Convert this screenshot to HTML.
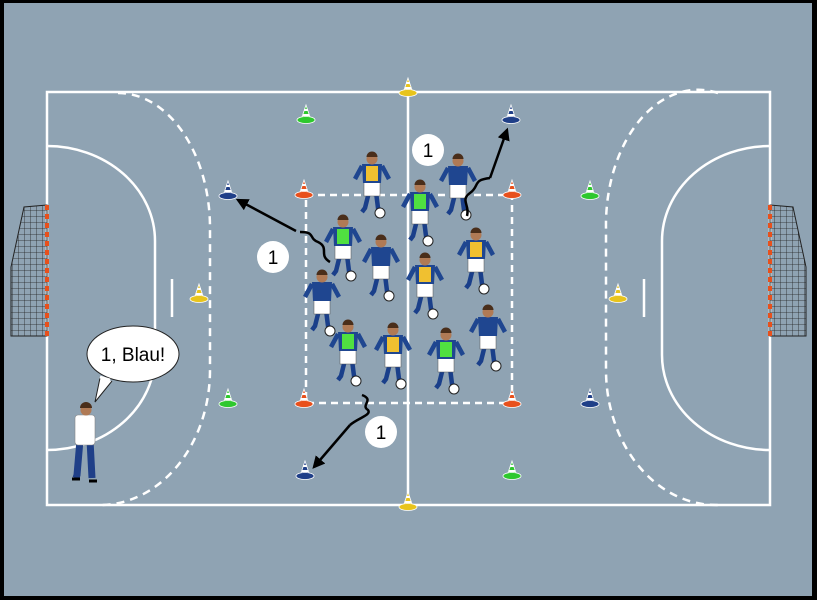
<!DOCTYPE html>
<html><head><style>html,body{margin:0;padding:0;background:#000}svg{display:block}</style></head><body>
<svg width="817" height="600" viewBox="0 0 817 600" xmlns="http://www.w3.org/2000/svg" font-family="Liberation Sans, sans-serif">
<defs>
<g id="pl">
 <path d="M-3,10 L-7,26 L-10,30" stroke="#1a3f8a" stroke-width="4.5" fill="none"/>
 <path d="M4,10 L6,26 L10,30" stroke="#1a3f8a" stroke-width="4.5" fill="none"/>
 <rect x="-8" y="0" width="16" height="14" fill="#fff" stroke="#555" stroke-width=".5"/>
 <path d="M-10,-18 L10,-18 L9,1 L-9,1 Z" fill="#1f4690"/>
 <path d="M-10,-16 L-17,-3 M10,-16 L17,-3" stroke="#1f4690" stroke-width="4.5"/>
 <circle cx="0" cy="-23" r="5.5" fill="#b07a55"/>
 <path d="M-5.5,-25 A5.5,5.5 0 0 1 5.5,-25 Z" fill="#4a2e1a"/>
 <circle cx="8" cy="31" r="5" fill="#fff" stroke="#222"/>
</g>
<g id="cone"><path d="M-5,0 L0,-15 L5,0 Z"/><ellipse cx="0" cy="0" rx="9" ry="3.5"/><path d="M-3,-5 L3,-5 M-2,-10 L2,-10" stroke="#fff" stroke-width="2"/></g>
<marker id="ar" viewBox="0 0 10 10" refX="8" refY="5" markerWidth="5" markerHeight="5" orient="auto"><path d="M0,0 L10,5 L0,10 Z" fill="#000"/></marker>
<pattern id="net" width="6" height="6" patternUnits="userSpaceOnUse"><path d="M6,0 L0,0 0,6" fill="none" stroke="#222" stroke-width=".8"/></pattern>
</defs>
<rect x="0" y="0" width="817" height="600" fill="#000"/>
<rect x="4" y="3" width="808" height="593" fill="#8fa3b3"/>
<g stroke="#fff" stroke-width="2.5" fill="none">
<rect x="47" y="92" width="723" height="413"/>
<line x1="408" y1="92" x2="408" y2="505"/>
<path d="M47,146 A108,95 0 0 1 155,241 L155,355 A108,95 0 0 1 47,450"/>
<path d="M770,146 A108,95 0 0 0 662,241 L662,355 A108,95 0 0 0 770,450"/>
<path d="M118,93 A92,135 0 0 1 210,228 L210,370 A110,135 0 0 1 100,505" stroke-dasharray="8,6"/>
<path d="M718,93 A92,135 0 0 0 606,228 L606,370 A110,135 0 0 0 718,505" stroke-dasharray="8,6"/>
<line x1="172" y1="279" x2="172" y2="317"/>
<line x1="644" y1="279" x2="644" y2="317"/>
<rect x="306" y="195" width="206" height="208" stroke-dasharray="7,5"/>
</g>
<g stroke="#222" stroke-width="1">
<path d="M47,205 L24,207 L11,267 L11,336 L47,336 Z" fill="url(#net)"/>
<path d="M770,205 L793,207 L806,267 L806,336 L770,336 Z" fill="url(#net)"/>
</g>
<line x1="47" y1="205" x2="47" y2="336" stroke="#e8501c" stroke-width="4" stroke-dasharray="5,4"/>
<line x1="770" y1="205" x2="770" y2="336" stroke="#e8501c" stroke-width="4" stroke-dasharray="5,4"/>
<g stroke="#fff" stroke-width=".8">
<use href="#cone" x="304" y="195" fill="#e8501c"/><use href="#cone" x="512" y="195" fill="#e8501c"/>
<use href="#cone" x="304" y="404" fill="#e8501c"/><use href="#cone" x="512" y="404" fill="#e8501c"/>
<use href="#cone" x="408" y="93" fill="#e8c41c"/><use href="#cone" x="408" y="507" fill="#e8c41c"/>
<use href="#cone" x="199" y="299" fill="#e8c41c"/><use href="#cone" x="618" y="299" fill="#e8c41c"/>
<use href="#cone" x="306" y="120" fill="#2ec82e"/><use href="#cone" x="590" y="196" fill="#2ec82e"/>
<use href="#cone" x="228" y="404" fill="#2ec82e"/><use href="#cone" x="512" y="476" fill="#2ec82e"/>
<use href="#cone" x="228" y="196" fill="#1f3f88"/><use href="#cone" x="511" y="120" fill="#1f3f88"/>
<use href="#cone" x="590" y="404" fill="#1f3f88"/><use href="#cone" x="305" y="476" fill="#1f3f88"/>
</g>
<g>
<use href="#pl" x="372" y="182"/><rect x="366" y="166" width="12" height="15" fill="#f0c030"/>
<use href="#pl" x="420" y="210"/><rect x="414" y="194" width="12" height="15" fill="#50e040"/>
<use href="#pl" x="458" y="184"/>
<use href="#pl" x="343" y="245"/><rect x="337" y="229" width="12" height="15" fill="#50e040"/>
<use href="#pl" x="381" y="265"/>
<use href="#pl" x="476" y="258"/><rect x="470" y="242" width="12" height="15" fill="#f0c030"/>
<use href="#pl" x="322" y="300"/>
<use href="#pl" x="425" y="283"/><rect x="419" y="267" width="12" height="15" fill="#f0c030"/>
<use href="#pl" x="348" y="350"/><rect x="342" y="334" width="12" height="15" fill="#50e040"/>
<use href="#pl" x="393" y="353"/><rect x="387" y="337" width="12" height="15" fill="#f0c030"/>
<use href="#pl" x="446" y="358"/><rect x="440" y="342" width="12" height="15" fill="#50e040"/>
<use href="#pl" x="488" y="335"/>
</g>
<g stroke="#000" stroke-width="2.5" fill="none">
<path d="M330,262 C318,255 330,248 318,242 C308,238 316,232 300,232" />
<line x1="296" y1="231" x2="238" y2="200" marker-end="url(#ar)"/>
<path d="M467,216 C470,205 460,200 470,193 C480,186 472,180 490,178"/>
<line x1="490" y1="178" x2="507" y2="130" marker-end="url(#ar)"/>
<path d="M362,395 C375,400 360,405 368,410 C372,415 358,418 350,425"/>
<line x1="350" y1="425" x2="314" y2="467" marker-end="url(#ar)"/>
</g>
<g font-size="19" text-anchor="middle">
<circle cx="428" cy="150" r="16" fill="#fff"/><text x="428" y="157">1</text>
<circle cx="273" cy="257" r="16" fill="#fff"/><text x="273" y="264">1</text>
<circle cx="381" cy="432" r="16" fill="#fff"/><text x="381" y="439">1</text>
</g>
<path d="M100,378 L95,402 L112,381" fill="#fff" stroke="#222"/>
<ellipse cx="133" cy="354" rx="46" ry="28" fill="#fff" stroke="#222"/>
<path d="M100,377 L110,380" stroke="#fff" stroke-width="3"/>
<text x="133" y="361" font-size="19" text-anchor="middle">1, Blau!</text>
<g>
<path d="M80,440 L77,475 L76,478 M90,440 L92,478" stroke="#1f3f88" stroke-width="7"/>
<rect x="75" y="415" width="20" height="30" rx="3" fill="#fff" stroke="#888" stroke-width=".6"/>
<circle cx="86" cy="410" r="5.5" fill="#b07a55"/>
<path d="M80,408 A6,6 0 0 1 92,408 Z" fill="#4a2e1a"/>
<path d="M72,479 L80,479 M89,481 L97,481" stroke="#000" stroke-width="3"/>
</g>
</svg>
</body></html>
